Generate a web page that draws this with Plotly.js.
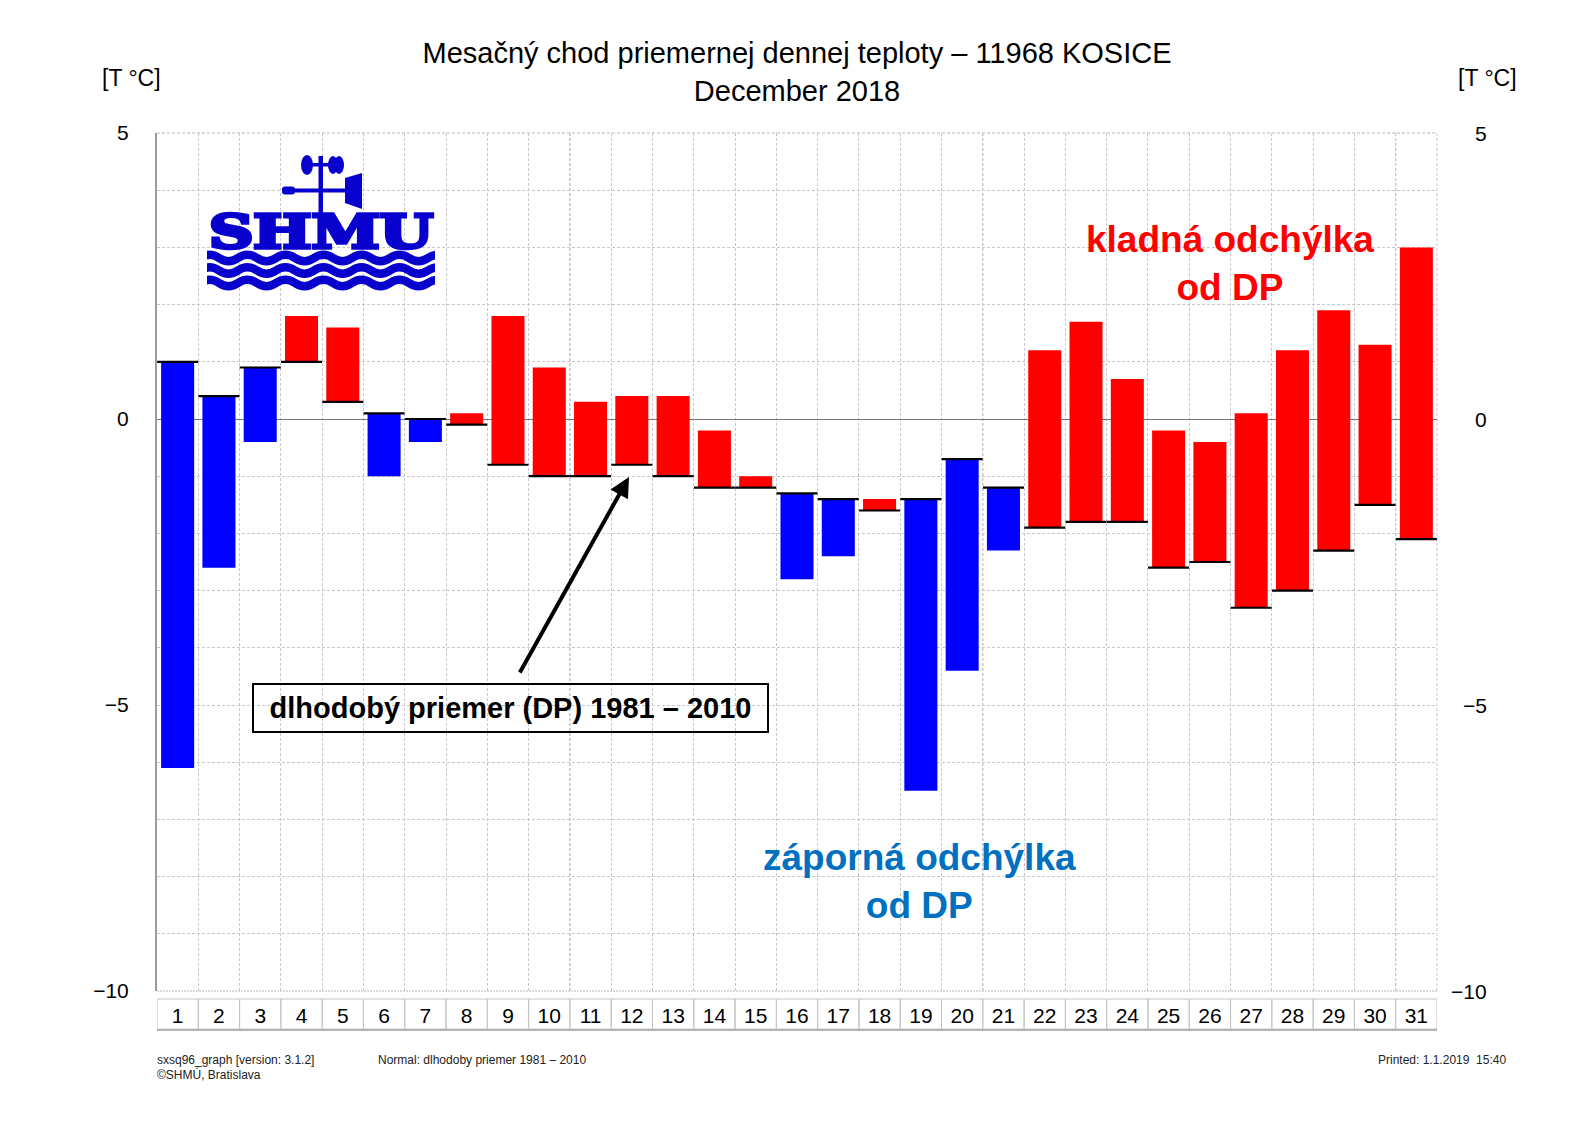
<!DOCTYPE html>
<html>
<head>
<meta charset="utf-8">
<script src="https://cdn.plot.ly/plotly-3.0.1.min.js"></script>
<style>html,body{margin:0;padding:0;background:#fff;}</style>
</head>
<body>
<div id="chart" style="width:1593px;height:1125px;"></div>
<script>
// ---- data ----
const days = [1,2,3,4,5,6,7,8,9,10,11,12,13,14,15,16,17,18,19,20,21,22,23,24,25,26,27,28,29,30,31];
const dayLabels = days.map(String);
const normalT = [1.0, 0.4, 0.9, 1.0, 0.3, 0.1, 0.0, -0.1, -0.8, -1.0, -1.0, -0.8, -1.0, -1.2, -1.2, -1.3, -1.4, -1.6, -1.4, -0.7, -1.2, -1.9, -1.8, -1.8, -2.6, -2.5, -3.3, -3.0, -2.3, -1.5, -2.1];
const actualT = [-6.1, -2.6, -0.4, 1.8, 1.6, -1.0, -0.4, 0.1, 1.8, 0.9, 0.3, 0.4, 0.4, -0.2, -1.0, -2.8, -2.4, -1.4, -6.5, -4.4, -2.3, 1.2, 1.7, 0.7, -0.2, -0.4, 0.1, 1.2, 1.9, 1.3, 3.0];
const yTicks = [-10, -5, 0, 5];
const yTickLabels = ['\u221210', '\u22125', '0', '5'];

const RED = '#ff0000', BLUE = '#0000ff';
const FONT = 'Liberation Sans, Arial, Helvetica, sans-serif';

const deviation = actualT.map((a, i) => a - normalT[i]);
const barColors = actualT.map((a, i) => a >= normalT[i] ? RED : BLUE);

const traces = [
  {
    type: 'bar', x: days, y: deviation, base: normalT, width: 0.8,
    marker: {color: barColors, line: {width: 0}}, hoverinfo: 'skip'
  },
  {
    type: 'scatter', mode: 'markers', x: days, y: normalT,
    marker: {symbol: 'line-ew', size: 29.3, color: '#000', line: {color: '#000', width: 2.2}},
    hoverinfo: 'skip', cliponaxis: false
  }
];

// ---- logo (SVG image) ----
function wavePath(y0) {
  const P = 38, A = 3.2;
  let d = 'M 0 ' + y0 + ' Q ' + (P / 4) + ' ' + (y0 - 2 * A) + ' ' + (P / 2) + ' ' + y0;
  for (let x = P; x <= 250; x += P / 2) d += ' T ' + x + ' ' + y0;
  return d;
}
const logoSvg =
  '<svg xmlns="http://www.w3.org/2000/svg" width="235" height="150" viewBox="0 0 235 150">' +
  '<defs><clipPath id="c"><rect x="7" y="100" width="228" height="50"/></clipPath></defs>' +
  '<g fill="#0800cc" stroke="none">' +
  '<ellipse cx="107" cy="15" rx="6" ry="10"/>' +
  '<ellipse cx="133" cy="15" rx="5" ry="9"/>' +
  '<ellipse cx="139" cy="15" rx="5" ry="9"/>' +
  '<rect x="107" y="13" width="32" height="3.5"/>' +
  '<rect x="118.5" y="6" width="4.5" height="57"/>' +
  '<rect x="82" y="38.5" width="66" height="4"/>' +
  '<rect x="82" y="36.5" width="13" height="8" rx="3"/>' +
  '<polygon points="145,28 162,23 162,59 145,53"/>' +
  '</g>' +
  '<text x="9" y="98" font-family="DejaVu Serif" font-weight="bold" font-size="46" textLength="224" ' +
  'lengthAdjust="spacingAndGlyphs" fill="#0800cc" stroke="#0800cc" stroke-width="3.6" stroke-linejoin="miter">SHMU</text>' +
  '<g clip-path="url(#c)" fill="none" stroke="#0800cc" stroke-width="8.5">' +
  '<path d="' + wavePath(108) + '"/>' +
  '<path d="' + wavePath(120.5) + '"/>' +
  '<path d="' + wavePath(133) + '"/>' +
  '</g></svg>';
const logoSrc = 'data:image/svg+xml;charset=utf-8,' + encodeURIComponent(logoSvg);

// ---- layout ----
const W = 1593, H = 1125;
const mL = 157, mR = 156, mT = 133, mB = 134;
const plotW = W - mL - mR, plotH = H - mT - mB;
const px = v => (v - mL) / plotW;           // pixel x -> paper x
const py = v => (H - mB - v) / plotH;       // pixel y -> paper y

const gridColor = '#c8c8c8';
const shapes = [];
// x label cells
days.forEach(d => {
  shapes.push({type: 'rect', xref: 'x', yref: 'paper', x0: d - 0.5, x1: d + 0.5,
    y0: py(1029), y1: py(999), line: {color: '#c4c4c4', width: 1}, fillcolor: 'rgba(0,0,0,0)', layer: 'below'});
});
shapes.push({type: 'line', xref: 'x', yref: 'paper', x0: days[0] - 0.5, x1: days[days.length - 1] + 0.5,
  y0: py(1030), y1: py(1030), line: {color: '#b4b4b4', width: 2}});
// darker grid every 10 days
days.filter(d => d % 10 === 0).forEach(d => {
  shapes.push({type: 'line', xref: 'x', yref: 'paper', x0: d + 0.5, x1: d + 0.5, y0: 0, y1: 1,
    line: {color: '#a0a0a0', width: 1, dash: '3px,2px'}, layer: 'below'});
});
// plot frame (top, right, bottom) as dashed grid
shapes.push(
  {type: 'line', xref: 'paper', yref: 'paper', x0: 0, x1: 1, y0: 1, y1: 1, line: {color: '#b8b8b8', width: 1, dash: '3px,2px'}, layer: 'below'},
  {type: 'line', xref: 'paper', yref: 'paper', x0: 0, x1: 1, y0: 0, y1: 0, line: {color: '#b8b8b8', width: 1, dash: '2px,1px'}, layer: 'below'},
  {type: 'line', xref: 'paper', yref: 'paper', x0: 1, x1: 1, y0: 0, y1: 1, line: {color: '#c8c8c8', width: 1, dash: '3px,2px'}, layer: 'below'}
);

const annotations = [];
// right-side tick labels
yTicks.forEach((v, i) => {
  annotations.push({xref: 'paper', yref: 'y', x: px(1489), y: v, xanchor: 'right', yanchor: 'middle',
    text: yTickLabels[i], showarrow: false, font: {size: 21, color: '#000'}});
});
annotations.push(
  {xref: 'paper', yref: 'paper', x: px(131), y: py(78), text: '[T \u00b0C]', showarrow: false,
    font: {size: 23, color: '#000'}, xanchor: 'center', yanchor: 'middle'},
  {xref: 'paper', yref: 'paper', x: px(1487), y: py(78), text: '[T \u00b0C]', showarrow: false,
    font: {size: 23, color: '#000'}, xanchor: 'center', yanchor: 'middle'},
  {xref: 'paper', yref: 'paper', x: px(1230), y: py(263), text: 'kladná odchýlka<br>od DP', showarrow: false,
    font: {size: 37, color: '#ff0000', family: FONT, weight: 'bold'}, xanchor: 'center', yanchor: 'middle'},
  {xref: 'paper', yref: 'paper', x: px(919), y: py(881), text: 'záporná odchýlka<br>od DP', showarrow: false,
    font: {size: 37, color: '#0070c0', family: FONT, weight: 'bold'}, xanchor: 'center', yanchor: 'middle'},
  {xref: 'paper', yref: 'paper', x: px(510), y: py(708), text: 'dlhodobý priemer (DP) 1981 – 2010', showarrow: false,
    font: {size: 29, color: '#000', family: FONT, weight: 'bold'}, xanchor: 'center', yanchor: 'middle',
    bordercolor: '#000', borderwidth: 2, borderpad: 4, width: 505, height: 38},
  {xref: 'paper', yref: 'paper', x: px(629), y: py(477), axref: 'pixel', ayref: 'pixel',
    ax: 519 - 629, ay: 674 - 477, text: '', showarrow: true, arrowhead: 2, arrowsize: 1, arrowwidth: 4,
    arrowcolor: '#000', standoff: 0, startstandoff: 0},
  {xref: 'paper', yref: 'paper', x: px(155), y: py(1060), text: 'sxsq96_graph [version: 3.1.2]', showarrow: false,
    font: {size: 12, color: '#222'}, xanchor: 'left', yanchor: 'middle'},
  {xref: 'paper', yref: 'paper', x: px(155), y: py(1074), text: '©SHMÚ, Bratislava', showarrow: false,
    font: {size: 12, color: '#222'}, xanchor: 'left', yanchor: 'middle'},
  {xref: 'paper', yref: 'paper', x: px(376), y: py(1060), text: 'Normal: dlhodoby priemer 1981 – 2010', showarrow: false,
    font: {size: 12, color: '#222'}, xanchor: 'left', yanchor: 'middle'},
  {xref: 'paper', yref: 'paper', x: px(1508), y: py(1060), text: 'Printed: 1.1.2019  15:40', showarrow: false,
    font: {size: 12, color: '#222'}, xanchor: 'right', yanchor: 'middle'}
);

const gridStyle = {gridcolor: gridColor, griddash: '3px,2px', gridwidth: 1};

const layout = {
  width: W, height: H,
  margin: {l: mL, r: mR, t: mT, b: mB, pad: 0},
  paper_bgcolor: '#ffffff', plot_bgcolor: '#ffffff',
  font: {family: FONT, color: '#000'},
  showlegend: false,
  title: {text: 'Mesačný chod priemernej dennej teploty – 11968 KOSICE<br>December 2018',
    font: {size: 29, color: '#000'}, x: 0.5, xref: 'paper', xanchor: 'center',
    y: 1 - 63 / H, yref: 'container', yanchor: 'top'},
  xaxis: {
    range: [0.5, 31.5], tickmode: 'array', tickvals: days, ticktext: dayLabels,
    showgrid: false, zeroline: false, showline: false, ticks: '',
    tickfont: {size: 21, color: '#000'}, ticklabelstandoff: 10,
    minor: Object.assign({tickmode: 'linear', tick0: 0.5, dtick: 1, showgrid: true, ticks: ''}, gridStyle),
    fixedrange: true
  },
  yaxis: Object.assign({
    range: [-10, 5], tickmode: 'array', tickvals: yTicks, ticktext: yTickLabels,
    showgrid: true, zeroline: true, zerolinecolor: '#777777', zerolinewidth: 1,
    showline: true, linecolor: '#9a9a9a', linewidth: 2, ticks: '',
    tickfont: {size: 21, color: '#000'}, ticklabelstandoff: 22,
    minor: Object.assign({tickmode: 'linear', tick0: 0, dtick: 1, showgrid: true, ticks: ''}, gridStyle),
    fixedrange: true
  }, gridStyle),
  shapes: shapes,
  annotations: annotations,
  images: [{source: logoSrc, xref: 'paper', yref: 'paper', x: px(200), y: py(150),
    sizex: 235 / plotW, sizey: 150 / plotH, sizing: 'stretch', xanchor: 'left', yanchor: 'top', layer: 'above'}]
};

Plotly.newPlot('chart', traces, layout, {staticPlot: true, displayModeBar: false});
</script>
</body>
</html>
